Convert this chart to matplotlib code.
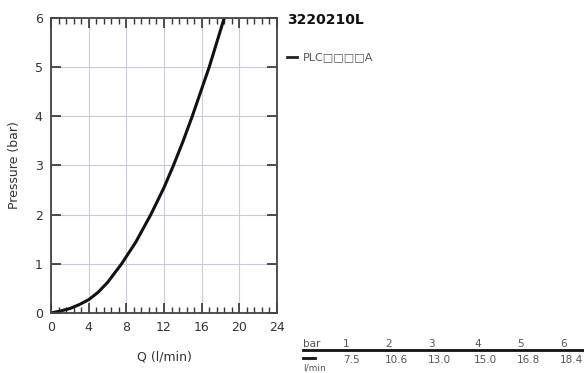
import numpy as np
import matplotlib.pyplot as plt
from matplotlib.ticker import MultipleLocator

# Flow curve
flow = [0, 1, 2, 3, 4, 5, 6, 7.5, 9, 10.6, 12, 13.0, 14, 15.0, 16.8, 17.6, 18.4]
pressure = [0, 0.04, 0.09, 0.17, 0.27, 0.42, 0.62, 1, 1.44, 2, 2.55, 3,
            3.48, 4, 5, 5.5, 6]

# Table under the legend
table_bar = [1, 2, 3, 4, 5, 6]
table_flow = ["7.5", "10.6", "13.0", "15.0", "16.8", "18.4"]

title = "3220210L"
series_name = "PLC\u25a1\u25a1\u25a1\u25a1A"

fig = plt.figure(figsize=(5.84, 3.73), dpi=100)
ax = fig.add_axes([0.0873, 0.1609, 0.387, 0.7909])

ax.plot(flow, pressure, color="#111111", lw=2.2, solid_capstyle="round",
        solid_joinstyle="round")

ax.set_xlim(0, 24)
ax.set_ylim(0, 6)
ax.xaxis.set_major_locator(MultipleLocator(4))
ax.xaxis.set_minor_locator(MultipleLocator(0.8))
ax.yaxis.set_major_locator(MultipleLocator(1))
ax.grid(True, which="major", color="#c9ccd8", lw=0.8)
ax.tick_params(which="both", direction="in", top=True, right=True,
               labelsize=9, colors="#333333", pad=6)
ax.tick_params(which="major", length=7, width=1.2)
ax.tick_params(which="minor", length=4, width=1.0)
ax.tick_params(axis="y", which="minor", left=False, right=False)
for s in ax.spines.values():
    s.set_color("#444444")
    s.set_linewidth(1.3)

ax.set_xlabel("Q (l/min)", fontsize=9, color="#333333", labelpad=12)
ax.set_ylabel("Pressure (bar)", fontsize=9, color="#333333", labelpad=10)

# title and legend on the right
fig.text(287 / 584, 1 - 20 / 373, title, fontsize=10, fontweight="bold",
         color="#111111", va="center", ha="left")
fig.add_artist(plt.Line2D([287 / 584, 297 / 584], [1 - 57 / 373] * 2,
                          color="#222222", lw=2))
fig.text(303 / 584, 1 - 57 / 373, series_name, fontsize=8, color="#555555",
         va="center", ha="left")

# small table
col_x = [343, 385, 428, 474, 517, 560]
fig.text(303 / 584, 1 - 344 / 373, "bar", fontsize=7.5, color="#555555",
         va="center", ha="left")
for cx, b, q in zip(col_x, table_bar, table_flow):
    fig.text(cx / 584, 1 - 344 / 373, str(b), fontsize=7.5, color="#555555",
             va="center", ha="left")
    fig.text(cx / 584, 1 - 360 / 373, q, fontsize=7.5, color="#555555",
             va="center", ha="left")
fig.add_artist(plt.Line2D([303 / 584, 1.0], [1 - 350 / 373] * 2,
                          color="#111111", lw=2))
fig.add_artist(plt.Line2D([303 / 584, 315 / 584], [1 - 358 / 373] * 2,
                          color="#111111", lw=2))
fig.text(303 / 584, 1 - 368 / 373, "l/min", fontsize=6.5, color="#555555",
         va="center", ha="left")

fig.savefig("out.png", dpi=100)
